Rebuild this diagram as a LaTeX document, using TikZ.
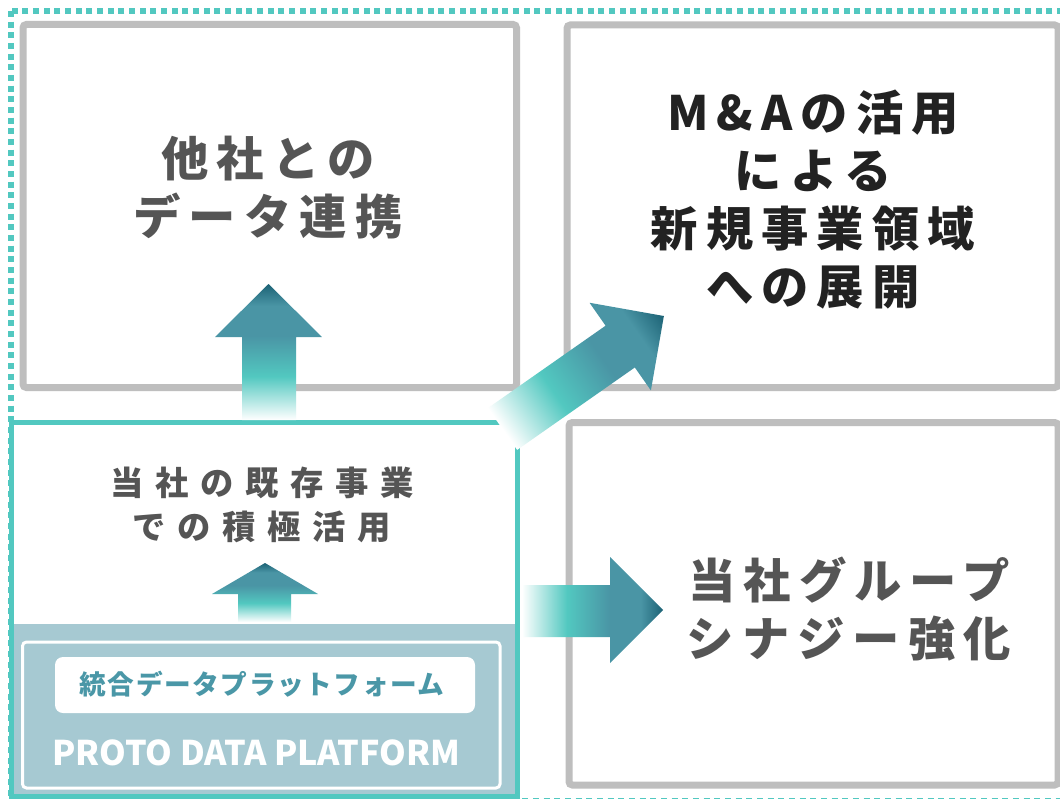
\documentclass[tikz,border=0pt]{standalone}
\usepackage{fontspec}
\setmainfont{Noto Sans CJK JP}
\definecolor{tealL}{HTML}{52C8C0}
\definecolor{grayL}{HTML}{BEBEBE}
\definecolor{bandC}{HTML}{A6C9D2}
\definecolor{blueA}{HTML}{4A95A5}
\definecolor{darkA}{HTML}{1D6376}
\definecolor{txtG}{HTML}{555555}
\definecolor{txtK}{HTML}{222222}
\definecolor{platT}{HTML}{4A97A7}
\pgfdeclarehorizontalshading{arrowgrad}{100bp}{color(0bp)=(white); color(25bp)=(white); color(41bp)=(tealL); color(56bp)=(blueA); color(67bp)=(blueA); color(75bp)=(darkA); color(100bp)=(darkA)}
\tikzset{
  graybox/.style={draw=grayL, line width=5.25pt, rounded corners=2.5pt},
  tealbox/.style={draw=tealL, line width=3.75pt},
  bigtxt/.style={align=center, inner sep=0pt, font=\fontsize{35.5}{43.5}\selectfont\bfseries\addfontfeature{LetterSpace=17}},
  midtxt/.style={align=center, inner sep=0pt, font=\fontsize{25}{33}\selectfont\bfseries\addfontfeature{LetterSpace=35}},
  plattxt/.style={inner sep=0pt, font=\fontsize{20}{22}\selectfont\bfseries\addfontfeature{LetterSpace=6}},
  protxt/.style={inner sep=0pt, font=\fontsize{25.5}{30}\selectfont\bfseries},
  fatarrow/.style={shading=arrowgrad}
}
\begin{document}
\begin{tikzpicture}[x=0.75pt,y=-0.75pt]
\useasboundingbox (0,0) rectangle (1060,799);
\fill[white] (0,0) rectangle (1060,799);
% dotted outer frame
\draw[tealL, line width=4.5pt, dash pattern=on 4.5pt off 3.5pt] (11,11) rectangle (1075,801);
% gray boxes
\coordinate (b1nw) at (23,24.5);   \coordinate (b1se) at (516.5,387.5);
\coordinate (b2nw) at (567,25);    \coordinate (b2se) at (1058,387.5);
\coordinate (b3nw) at (569,422.5); \coordinate (b3se) at (1058,785);
\draw[graybox] (b1nw) rectangle (b1se);
\draw[graybox] (b2nw) rectangle (b2se);
\draw[graybox] (b3nw) rectangle (b3se);
% teal box with platform band
\coordinate (tnw) at (11,422.5); \coordinate (tse) at (517,796);
\fill[white] (tnw) rectangle (tse);
\fill[bandC] (11,624) rectangle (tse);
\draw[tealbox] (tnw) rectangle (tse);
\draw[white, line width=2.25pt, rounded corners=3pt] (22.5,642) rectangle (500,788);
\fill[white, rounded corners=6pt] (55,657) rectangle (475,713);
% texts
\node[bigtxt, text=txtG] (t1) at (268,188) {他社との\\データ連携};
\node[bigtxt, text=txtK] (t2) at (813,200) {M\&Aの活用\\による\\新規事業領域\\への展開};
\node[bigtxt, text=txtG] (t3) at (849,609) {当社グループ\\シナジー強化};
\node[midtxt, text=txtG] (t4) at (262,505) {当社の既存事業\\での積極活用};
\node[plattxt, text=platT] (t5) at (262,684) {統合データプラットフォーム};
\node[protxt, text=white] (t6) at (256,753) {PROTO DATA PLATFORM};
% arrows
\shade[fatarrow, shading angle=90] (242,420) -- (242,337) -- (215,337) -- (268.5,284) -- (322,337) -- (296,337) -- (296,420) -- cycle;
\shade[fatarrow, shading angle=90] (238,622) -- (238,594) -- (212,594) -- (265,563) -- (318,594) -- (291,594) -- (291,622) -- cycle;
\shade[fatarrow] (522,585) -- (610,585) -- (610,557) -- (663,610) -- (610,663) -- (610,637) -- (522,637) -- cycle;
\begin{scope}[transform canvas={shift={(502.5,429)}, rotate=35}]
\shade[fatarrow] (0,25.5) -- (143.7,25.5) -- (143.7,53.5) -- (197,0) -- (143.7,-53.5) -- (143.7,-25.5) -- (0,-25.5) -- cycle;
\end{scope}
\end{tikzpicture}
\end{document}
